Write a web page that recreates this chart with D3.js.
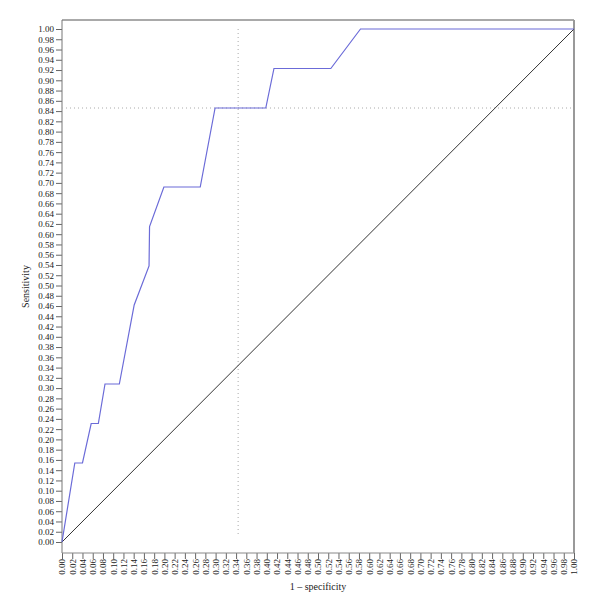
<!DOCTYPE html>
<style>
body { margin: 0; background: #fff; }
text { font-family: "Liberation Serif", "DejaVu Serif", serif; }
</style>
<svg width="600" height="613"></svg>
<script src="https://d3js.org/d3.v7.min.js"></script>
<script>

// ROC curve points
var fpr  = [0, 0.025, 0.040, 0.057, 0.071, 0.084, 0.112, 0.141, 0.170, 0.171, 0.199, 0.270, 0.299, 0.398, 0.414, 0.525, 0.583, 1];
var sens = [0, 0.154, 0.154, 0.231, 0.231, 0.308, 0.308, 0.462, 0.538, 0.615, 0.692, 0.692, 0.846, 0.846, 0.923, 0.923, 1, 1];

// cut-off marked by the dotted lines
var cutX = 0.344, cutY = 0.846;

var ticks = d3.range(0, 51).map(function(i) { return i / 50; });

var svg = d3.select("svg"),
    frame = {left: 62, right: 574, top: 20, bottom: 553};

var x = d3.scaleLinear().domain([0, 1]).range([frame.left, frame.right]);
var y = d3.scaleLinear().domain([0, 1]).range([542, 29]);

var fmt = d3.format(".2f");

// y axis
var gy = svg.append("g")
    .attr("transform", "translate(" + frame.left + ",0)")
    .call(d3.axisLeft(y).tickValues(ticks).tickFormat(fmt).tickSize(6).tickPadding(2).tickSizeOuter(0));
gy.select(".domain").remove();
gy.selectAll(".tick line").attr("stroke", "#666");
gy.selectAll(".tick text").attr("fill", "#222").style("font-size", "9px");

// x axis
var gx = svg.append("g")
    .attr("transform", "translate(0," + frame.bottom + ")")
    .call(d3.axisBottom(x).tickValues(ticks).tickFormat(fmt).tickSize(6).tickSizeOuter(0));
gx.select(".domain").remove();
gx.selectAll(".tick line").attr("stroke", "#666");
gx.selectAll(".tick text")
    .attr("fill", "#222")
    .style("font-size", "9px")
    .attr("transform", "rotate(-90)")
    .attr("text-anchor", "end")
    .attr("x", -6)
    .attr("y", 0)
    .attr("dy", "0.32em");

// frame
svg.append("line").attr("x1", frame.left).attr("x2", frame.right).attr("y1", frame.top).attr("y2", frame.top)
    .attr("stroke", "#555").attr("stroke-width", 1);
svg.append("line").attr("x1", frame.left).attr("x2", frame.left).attr("y1", frame.top).attr("y2", frame.bottom)
    .attr("stroke", "#777").attr("stroke-width", 1);
svg.append("line").attr("x1", frame.left).attr("x2", frame.right).attr("y1", frame.bottom).attr("y2", frame.bottom)
    .attr("stroke", "#888").attr("stroke-width", 1);
svg.append("line").attr("x1", frame.right).attr("x2", frame.right).attr("y1", frame.top).attr("y2", frame.bottom)
    .attr("stroke", "#999").attr("stroke-width", 2);

// dotted cut-off lines
svg.append("line")
    .attr("x1", frame.left).attr("x2", frame.right)
    .attr("y1", y(cutY)).attr("y2", y(cutY))
    .attr("stroke", "#aaa").attr("stroke-dasharray", "1,3");
svg.append("line")
    .attr("x1", x(cutX)).attr("x2", x(cutX))
    .attr("y1", y(1)).attr("y2", y(0.013))
    .attr("stroke", "#aaa").attr("stroke-dasharray", "1,3");

// reference diagonal
svg.append("line")
    .attr("x1", x(0)).attr("y1", y(0))
    .attr("x2", x(1)).attr("y2", y(1))
    .attr("stroke", "#333").attr("stroke-width", 1);

// ROC curve
var line = d3.line()
    .x(function(d, i) { return x(fpr[i]); })
    .y(function(d, i) { return y(sens[i]); });

svg.append("path")
    .datum(fpr)
    .attr("fill", "none")
    .attr("stroke", "#6b6bd8")
    .attr("stroke-width", 1.2)
    .attr("d", line);

// axis titles
svg.append("text")
    .attr("x", (frame.left + frame.right) / 2)
    .attr("y", 590)
    .attr("text-anchor", "middle")
    .style("font-size", "10px")
    .attr("fill", "#222")
    .text("1 \u2013 specificity");

svg.append("text")
    .attr("transform", "translate(29," + (frame.top + frame.bottom) / 2 + ") rotate(-90)")
    .attr("text-anchor", "middle")
    .style("font-size", "10px")
    .attr("fill", "#222")
    .text("Sensitivity");

</script>
